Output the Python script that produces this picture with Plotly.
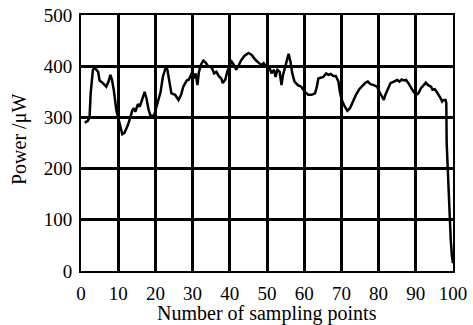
import plotly.graph_objects as go

sample_x = [1.0, 1.8, 2.3, 2.6, 3.2, 3.8, 4.6, 5.0, 5.9, 6.8, 7.4, 7.9, 8.3, 8.8, 9.5, 9.9,
            10.6, 11.1, 11.7, 12.6, 13.3, 13.8, 14.2, 14.6, 15.3, 15.8, 16.4, 17.1, 17.6, 18.2, 18.7, 19.6,
            20.0, 20.7, 21.4, 22.0, 22.7, 23.2, 23.8, 24.3, 25.3, 26.2, 26.9, 27.5, 28.4, 29.0, 29.6, 29.9,
            30.4, 30.8, 31.3, 31.7, 32.3, 32.9, 33.5, 34.2, 35.1, 35.8, 36.4, 37.0, 37.7, 38.1, 38.8, 39.3, 39.9,
            40.5, 41.0, 41.7, 42.3, 43.0, 43.9, 45.0, 45.9, 46.8, 47.7, 48.6, 49.1, 49.7,
            50.6, 51.2, 51.9, 52.3, 52.8, 53.4, 53.9, 54.3, 54.9, 55.3, 55.8, 56.3, 56.8, 57.4, 58.3, 59.2,
            60.2, 61.1, 62.0, 62.9, 63.4, 63.8, 64.4, 65.1, 65.9, 66.5, 67.1, 67.8, 68.5, 69.2, 69.6,
            70.1, 70.7, 71.6, 72.3, 73.0, 73.9, 74.8, 75.7, 76.5, 77.1, 77.8, 78.7, 79.6,
            80.2, 80.9, 81.4, 81.8, 82.5, 83.2, 84.1, 85.0, 85.6, 86.2, 86.9, 87.4, 88.0, 88.7, 89.4,
            90.1, 90.7, 91.4, 92.1, 92.7, 93.3, 94.1, 94.5, 95.1, 95.6, 96.2, 96.7, 97.1, 97.5, 98.0, 98.2,
            98.3, 98.5, 98.6, 98.8, 99.1, 99.4, 99.7, 100.0]

power_uw = [290, 293, 300, 347, 393, 396, 389, 372, 367, 360, 370, 383, 374, 354, 314, 301,
            279, 267, 270, 285, 301, 314, 318, 311, 326, 321, 334, 350, 337, 314, 303, 303,
            313, 331, 350, 379, 396, 394, 367, 347, 344, 334, 344, 360, 372, 374, 383, 389,
            376, 386, 363, 389, 404, 411, 407, 400, 398, 386, 389, 381, 376, 367, 374, 389, 400,
            409, 404, 393, 400, 411, 420, 426, 422, 413, 407, 402, 406, 400,
            399, 386, 393, 379, 393, 389, 363, 383, 399, 412, 424, 409, 386, 370, 363, 360,
            350, 344, 344, 347, 360, 376, 378, 379, 386, 383, 385, 381, 381, 370, 350,
            334, 324, 313, 318, 331, 344, 355, 363, 368, 370, 365, 363, 360,
            350, 340, 334, 344, 357, 367, 370, 373, 370, 374, 372, 373, 367, 357, 350,
            344, 347, 357, 363, 368, 363, 360, 354, 355, 350, 344, 337, 331, 334, 334, 328,
            250, 215, 200, 150, 100, 60, 30, 15]

x_ticks = [0, 10, 20, 30, 40, 50, 60, 70, 80, 90, 100]
y_ticks = [0, 100, 200, 300, 400, 500]

x_title = "Number of sampling points"
y_title = "Power /μW"

font_family = "Liberation Serif"

fig = go.Figure()
fig.add_trace(go.Scatter(x=sample_x, y=power_uw, mode="lines",
                         line=dict(color="black", width=2.5), showlegend=False,
                         hoverinfo="skip"))

axis_common = dict(showgrid=True, gridcolor="black", gridwidth=3,
                   showline=True, linecolor="black", linewidth=2, mirror=True,
                   ticks="outside", tickcolor="rgba(0,0,0,0)",
                   zeroline=False, automargin=False, ticklabeloverflow="allow",
                   tickfont=dict(family=font_family, size=19, color="black"))

fig.update_xaxes(range=[0, 100], tickvals=x_ticks, ticklen=4, **axis_common)
fig.update_yaxes(range=[0, 500], tickvals=y_ticks, ticklen=3, **axis_common)

fig.add_annotation(text=x_title, xref="paper", yref="paper", x=0.5, y=0,
                   yshift=-42, yanchor="middle", showarrow=False,
                   font=dict(family=font_family, size=20, color="black"))
fig.add_annotation(text=y_title, xref="paper", yref="paper", x=0, y=0.5,
                   xshift=-62, yshift=3, xanchor="center", yanchor="middle",
                   textangle=-90, showarrow=False,
                   font=dict(family=font_family, size=20, color="black"))

fig.update_layout(width=473, height=325, margin=dict(l=81, r=20, t=15, b=54),
                  plot_bgcolor="white", paper_bgcolor="white",
                  font=dict(family=font_family, color="black"))

# remove the default 8px page margin so the figure fills the window exactly
fig.write_html("out.html", config={"displayModeBar": False, "staticPlot": True},
               post_script="document.body.style.margin='0';document.body.style.overflow='hidden';")
